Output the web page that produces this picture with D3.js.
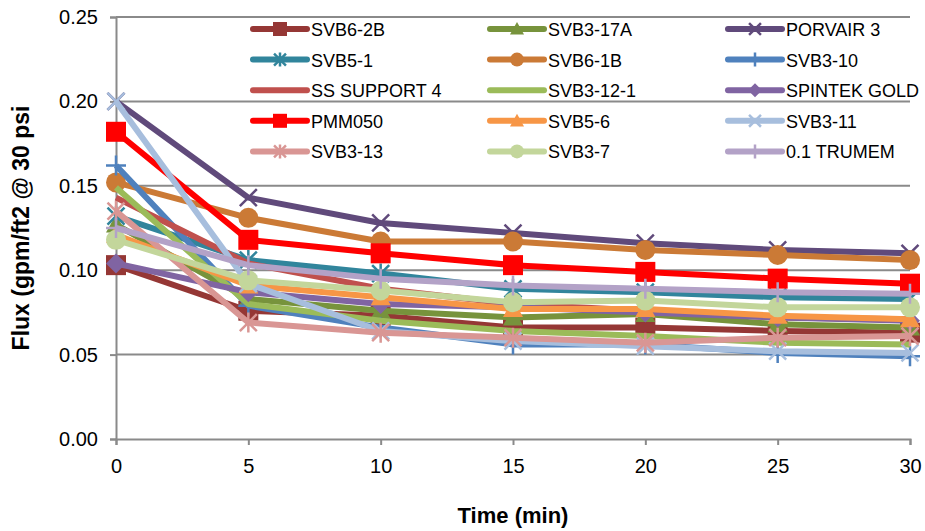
<!DOCTYPE html>
<html><head><meta charset="utf-8">
<script src="https://cdn.jsdelivr.net/npm/d3@7"></script>
<style>body{margin:0;background:#fff;}svg{display:block;font-family:"Liberation Sans",Arial,sans-serif;}</style>
</head><body>
<svg id="c" width="925" height="531"></svg>
<script>
const times = [0, 5, 10, 15, 20, 25, 30];
const yTicks = [0, 0.05, 0.10, 0.15, 0.20, 0.25];
const seriesNames = ["SVB6-2B","SVB3-17A","PORVAIR 3","SVB5-1","SVB6-1B","SVB3-10","SS SUPPORT 4","SVB3-12-1","SPINTEK GOLD","PMM050","SVB5-6","SVB3-11","SVB3-13","SVB3-7","0.1 TRUMEM"];
const svb62b    = [0.103, 0.076, 0.073, 0.066, 0.066, 0.064, 0.063];
const svb317a   = [0.127, 0.083, 0.076, 0.072, 0.074, 0.068, 0.066];
const porvair3  = [0.200, 0.143, 0.128, 0.122, 0.116, 0.112, 0.110];
const svb51     = [0.132, 0.106, 0.098, 0.089, 0.087, 0.084, 0.083];
const svb61b    = [0.152, 0.131, 0.117, 0.117, 0.112, 0.109, 0.106];
const svb310    = [0.162, 0.079, 0.066, 0.056, 0.056, 0.051, 0.049];
const sssupport4= [0.143, 0.104, 0.089, 0.080, 0.076, 0.072, 0.071];
const svb3121   = [0.149, 0.080, 0.070, 0.064, 0.061, 0.057, 0.056];
const spintek   = [0.104, 0.087, 0.080, 0.078, 0.075, 0.072, 0.070];
const pmm050    = [0.182, 0.118, 0.110, 0.103, 0.099, 0.095, 0.092];
const svb56     = [0.121, 0.091, 0.084, 0.077, 0.077, 0.073, 0.071];
const svb311    = [0.200, 0.092, 0.064, 0.058, 0.055, 0.052, 0.051];
const svb313    = [0.135, 0.069, 0.063, 0.060, 0.057, 0.060, 0.061];
const svb37     = [0.118, 0.094, 0.088, 0.081, 0.082, 0.078, 0.078];
const trumem    = [0.125, 0.103, 0.095, 0.091, 0.089, 0.087, 0.086];
const seriesValues = [svb62b, svb317a, porvair3, svb51, svb61b, svb310, sssupport4, svb3121, spintek, pmm050, svb56, svb311, svb313, svb37, trumem];
const seriesColors = ["#953735","#77933C","#604A7B","#31859C","#CB7A36","#4F81BD","#C0504D","#9BBB59","#8064A2","#FF0000","#F79646","#A7BEDD","#D99694","#C3D69B","#B3A2C7"];
const seriesMarkers = ["square","triangle","x","star","circle","plus","none","none","diamond","square","triangle","x","star","circle","plus"];

const svg = d3.select("#c");
const L = 116, R = 910, T = 17, B = 439;
const x = d3.scaleLinear().domain([0, 30]).range([L, R]);
const y = d3.scaleLinear().domain([0, 0.25]).range([B, T]);

// gridlines
svg.append("g").selectAll("line").data(yTicks.slice(1)).join("line")
  .attr("x1", L).attr("x2", R).attr("y1", d => y(d)).attr("y2", d => y(d))
  .attr("stroke", "#8a8a8a").attr("stroke-width", 2);

// axes
const yAxis = svg.append("g").attr("transform", `translate(${L},0)`)
  .call(d3.axisLeft(y).tickValues(yTicks).tickFormat(d3.format(".2f")).tickSize(6).tickPadding(12));
const xAxis = svg.append("g").attr("transform", `translate(0,${B})`)
  .call(d3.axisBottom(x).tickValues(times).tickFormat(d3.format("d")).tickSize(6).tickPadding(14));
[yAxis, xAxis].forEach(g => {
  g.select(".domain").attr("stroke", "#8a8a8a").attr("stroke-width", 2);
  g.selectAll(".tick line").attr("stroke", "#8a8a8a").attr("stroke-width", 2);
  g.selectAll("text").attr("font-size", 20).attr("fill", "#000").attr("font-family", "'Liberation Sans',Arial,sans-serif");
});

// titles
svg.append("text").attr("x", 513).attr("y", 523).attr("text-anchor", "middle")
  .attr("font-size", 22).attr("font-weight", "bold").text("Time (min)");
svg.append("text").attr("transform", "translate(29,228) rotate(-90)").attr("text-anchor", "middle")
  .attr("font-size", 23).attr("font-weight", "bold").text("Flux (gpm/ft2 @ 30 psi");

function drawMarker(g, type, color, cx, cy, s) {
  if (type === "none") return;
  if (type === "square") {
    g.append("rect").attr("x", cx - s).attr("y", cy - s).attr("width", 2 * s).attr("height", 2 * s).attr("fill", color);
  } else if (type === "circle") {
    g.append("circle").attr("cx", cx).attr("cy", cy).attr("r", s).attr("fill", color);
  } else if (type === "triangle") {
    g.append("path").attr("d", `M${cx},${cy - s}L${cx + s},${cy + s * 0.8}L${cx - s},${cy + s * 0.8}Z`).attr("fill", color);
  } else if (type === "diamond") {
    g.append("path").attr("d", `M${cx},${cy - s}L${cx + s},${cy}L${cx},${cy + s}L${cx - s},${cy}Z`).attr("fill", color);
  } else {
    const d = s * 0.85;
    let p = "";
    if (type === "x" || type === "star") p += `M${cx - d},${cy - d}L${cx + d},${cy + d}M${cx - d},${cy + d}L${cx + d},${cy - d}`;
    if (type === "star" || type === "plus") p += `M${cx},${cy - s}L${cx},${cy + s}`;
    if (type === "plus") p += `M${cx - s},${cy}L${cx + s},${cy}`;
    g.append("path").attr("d", p).attr("stroke", color).attr("stroke-width", 2.5).attr("fill", "none");
  }
}

const line = d3.line().x((d, i) => x(times[i])).y(d => y(d));
seriesValues.forEach((vals, si) => {
  const g = svg.append("g");
  g.append("path").attr("d", line(vals)).attr("fill", "none")
    .attr("stroke", seriesColors[si]).attr("stroke-width", 6).attr("stroke-linejoin", "round");
  vals.forEach((v, i) => drawMarker(g, seriesMarkers[si], seriesColors[si], x(times[i]), y(v), 10));
});

// legend
const colX = [253, 490, 728];
const rowY0 = 29, rowH = 30.6;
seriesNames.forEach((name, i) => {
  const cx = colX[i % 3], cy = rowY0 + Math.floor(i / 3) * rowH;
  const g = svg.append("g");
  g.append("line").attr("x1", cx).attr("x2", cx + 54).attr("y1", cy).attr("y2", cy)
    .attr("stroke", seriesColors[i]).attr("stroke-width", 6).attr("stroke-linecap", "round");
  drawMarker(g, seriesMarkers[i], seriesColors[i], cx + 27, cy, 7);
  g.append("text").attr("x", cx + 58).attr("y", cy + 7).attr("font-size", 18).attr("fill", "#000").text(name);
});
</script>
</body></html>
